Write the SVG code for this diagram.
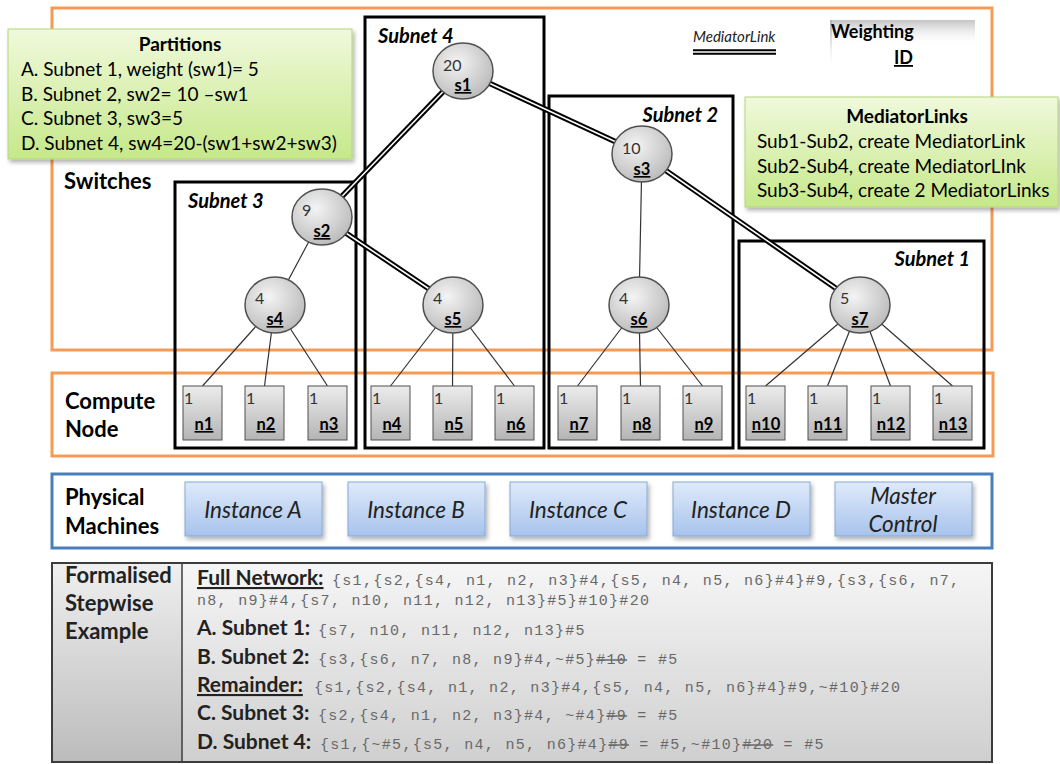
<svg xmlns="http://www.w3.org/2000/svg" width="1060" height="764" viewBox="0 0 1060 764">
<defs>
  <radialGradient id="gSw" cx="0.4" cy="0.35" r="0.7">
    <stop offset="0" stop-color="#f4f4f4"/>
    <stop offset="1" stop-color="#b9b9b9"/>
  </radialGradient>
  <linearGradient id="gNode" x1="0" y1="0" x2="0" y2="1">
    <stop offset="0" stop-color="#ececec"/>
    <stop offset="1" stop-color="#b4b4b4"/>
  </linearGradient>
  <linearGradient id="gGreen" x1="0" y1="0" x2="0" y2="1">
    <stop offset="0" stop-color="#f0f9dc"/>
    <stop offset="1" stop-color="#c6e88a"/>
  </linearGradient>
  <linearGradient id="gBlue" x1="0" y1="0" x2="0" y2="1">
    <stop offset="0" stop-color="#dfeafa"/>
    <stop offset="1" stop-color="#a7c3ec"/>
  </linearGradient>
  <linearGradient id="gStep" x1="0" y1="0" x2="0" y2="1">
    <stop offset="0" stop-color="#f6f6f6"/>
    <stop offset="1" stop-color="#cfcfcf"/>
  </linearGradient>
  <linearGradient id="gStepL" x1="0" y1="0" x2="0" y2="1">
    <stop offset="0" stop-color="#efefef"/>
    <stop offset="1" stop-color="#bcbcbc"/>
  </linearGradient>
  <linearGradient id="gWTop" x1="0" y1="0" x2="0" y2="1">
    <stop offset="0" stop-color="#c4c4c4"/>
    <stop offset="1" stop-color="#ffffff" stop-opacity="0"/>
  </linearGradient>
  <linearGradient id="gWLeft" x1="0" y1="0" x2="0" y2="1">
    <stop offset="0" stop-color="#b0b0b0"/>
    <stop offset="1" stop-color="#ffffff" stop-opacity="0"/>
  </linearGradient>
  <filter id="shadow" x="-10%" y="-10%" width="130%" height="140%">
    <feDropShadow dx="2" dy="3" stdDeviation="2" flood-color="#000" flood-opacity="0.3"/>
  </filter>
</defs>
<style>
  .mono{font-family:"Liberation Mono",monospace;font-size:15px;letter-spacing:1.3px;fill:#686868}
  .panelO{fill:none;stroke:#f59b55;stroke-width:3}
  .panelB{fill:none;stroke:#4a7ebb;stroke-width:3}
  .subnet{fill:none;stroke:#000;stroke-width:3}
  .sw{fill:url(#gSw);stroke:#505050;stroke-width:1.5}
  .nd{fill:url(#gNode);stroke:#505050;stroke-width:1}
  .green{fill:url(#gGreen);stroke:#b3d67a;stroke-width:1}
  .inst{fill:url(#gBlue);stroke:#86a8d6;stroke-width:1}
  .edge{stroke:#333;stroke-width:1.2;fill:none}
  .medo{stroke:#000;stroke-width:5.5;fill:none}
  .medi{stroke:#fff;stroke-width:1.6;fill:none}
  .head{font-family:Lato,"Liberation Sans",sans-serif;font-weight:bold;font-size:22px;fill:#000}
  .sub{font-family:Lato,"Liberation Sans",sans-serif;font-weight:bold;font-style:italic;font-size:20px;fill:#000}
  .num{font-family:Lato,"Liberation Sans",sans-serif;font-size:16px;fill:#333}
  .id{font-family:Lato,"Liberation Sans",sans-serif;font-weight:bold;font-size:16.5px;fill:#000;text-decoration:underline;text-anchor:middle}
  .box{font-family:Lato,"Liberation Sans",sans-serif;font-size:19px;fill:#000}
  .boxt{font-family:Lato,"Liberation Sans",sans-serif;font-size:19px;font-weight:bold;fill:#000;text-anchor:middle}
  .instt{font-family:Lato,"Liberation Sans",sans-serif;font-size:22.5px;font-style:italic;fill:#222;text-anchor:middle}
  .stepL{font-family:Lato,"Liberation Sans",sans-serif;font-weight:bold;font-size:22px;fill:#222}
  .step{font-family:Lato,"Liberation Sans",sans-serif;font-weight:bold;font-size:21px;fill:#222}
  .u{text-decoration:underline}
  .s{text-decoration:line-through}
</style>
<rect width="1060" height="764" fill="#fff"/>

<!-- panels -->
<g id="panel-switches">
  <rect class="panelO" x="52" y="8" width="940" height="342"/>
  <text class="head" x="64" y="189">Switches</text>
</g>
<g id="panel-compute">
  <rect class="panelO" x="52" y="373" width="941" height="83"/>
  <text class="head" x="65" y="409">Compute</text>
  <text class="head" x="65" y="437">Node</text>
</g>
<g id="panel-physical">
  <rect class="panelB" x="52" y="474" width="940" height="74"/>
  <text class="head" x="65" y="505">Physical</text>
  <text class="head" x="65" y="534">Machines</text>
</g>

<!-- subnet boxes -->
<g id="subnets">
  <g id="subnet4"><rect class="subnet" x="365" y="17" width="179" height="431"/><text class="sub" x="378" y="43">Subnet 4</text></g>
  <g id="subnet3"><rect class="subnet" x="175" y="182" width="181" height="266"/><text class="sub" x="188" y="208">Subnet 3</text></g>
  <g id="subnet2"><rect class="subnet" x="549" y="96" width="184" height="352"/><text class="sub" x="718" y="122" text-anchor="end">Subnet 2</text></g>
  <g id="subnet1"><rect class="subnet" x="739" y="241" width="245" height="207"/><text class="sub" x="970" y="266" text-anchor="end">Subnet 1</text></g>
</g>

<!-- connectors -->
<g id="connectors">
  <line class="edge" x1="322" y1="217" x2="275" y2="305"/>
  <line class="edge" x1="642" y1="154" x2="639" y2="305"/>
  <line class="edge" x1="275" y1="305" x2="202.5" y2="386"/>
  <line class="edge" x1="275" y1="305" x2="264.5" y2="386"/>
  <line class="edge" x1="275" y1="305" x2="327.5" y2="386"/>
  <line class="edge" x1="453" y1="305" x2="390.5" y2="386"/>
  <line class="edge" x1="453" y1="305" x2="452.5" y2="386"/>
  <line class="edge" x1="453" y1="305" x2="514.5" y2="386"/>
  <line class="edge" x1="639" y1="305" x2="577.5" y2="386"/>
  <line class="edge" x1="639" y1="305" x2="640.5" y2="386"/>
  <line class="edge" x1="639" y1="305" x2="702.5" y2="386"/>
  <line class="edge" x1="860" y1="305" x2="765.5" y2="386"/>
  <line class="edge" x1="860" y1="305" x2="827.5" y2="386"/>
  <line class="edge" x1="860" y1="305" x2="890.5" y2="386"/>
  <line class="edge" x1="860" y1="305" x2="952.5" y2="386"/>
  <g id="mediator-links">
    <line class="medo" x1="463" y1="71" x2="322" y2="217"/>
    <line class="medo" x1="463" y1="71" x2="642" y2="154"/>
    <line class="medo" x1="322" y1="217" x2="453" y2="305"/>
    <line class="medo" x1="642" y1="154" x2="860" y2="305"/>
    <line class="medi" x1="463" y1="71" x2="322" y2="217"/>
    <line class="medi" x1="463" y1="71" x2="642" y2="154"/>
    <line class="medi" x1="322" y1="217" x2="453" y2="305"/>
    <line class="medi" x1="642" y1="154" x2="860" y2="305"/>
  </g>
</g>

<!-- switches -->
<g id="s1"><ellipse class="sw" cx="463" cy="71" rx="30" ry="28"/><text class="num" x="443" y="71">20</text><text class="id" x="463" y="91">s1</text></g>
<g id="s2"><ellipse class="sw" cx="322" cy="217" rx="30" ry="28"/><text class="num" x="302" y="216">9</text><text class="id" x="322" y="237">s2</text></g>
<g id="s3"><ellipse class="sw" cx="642" cy="154" rx="30" ry="28"/><text class="num" x="622" y="154">10</text><text class="id" x="642" y="175">s3</text></g>
<g id="s4"><ellipse class="sw" cx="275" cy="305" rx="30" ry="28"/><text class="num" x="255" y="304">4</text><text class="id" x="275" y="325">s4</text></g>
<g id="s5"><ellipse class="sw" cx="453" cy="305" rx="30" ry="28"/><text class="num" x="433" y="304">4</text><text class="id" x="453" y="325">s5</text></g>
<g id="s6"><ellipse class="sw" cx="639" cy="305" rx="30" ry="28"/><text class="num" x="619" y="304">4</text><text class="id" x="639" y="325">s6</text></g>
<g id="s7"><ellipse class="sw" cx="860" cy="305" rx="30" ry="28"/><text class="num" x="840" y="304">5</text><text class="id" x="860" y="325">s7</text></g>

<!-- compute nodes -->
<g id="n1"><rect class="nd" x="183" y="386" width="39" height="54"/><text class="num" x="184" y="404">1</text><text class="id" x="204" y="430">n1</text></g>
<g id="n2"><rect class="nd" x="245" y="386" width="39" height="54"/><text class="num" x="246" y="404">1</text><text class="id" x="266" y="430">n2</text></g>
<g id="n3"><rect class="nd" x="308" y="386" width="39" height="54"/><text class="num" x="309" y="404">1</text><text class="id" x="329" y="430">n3</text></g>
<g id="n4"><rect class="nd" x="371" y="386" width="39" height="54"/><text class="num" x="372" y="404">1</text><text class="id" x="392" y="430">n4</text></g>
<g id="n5"><rect class="nd" x="433" y="386" width="39" height="54"/><text class="num" x="434" y="404">1</text><text class="id" x="454" y="430">n5</text></g>
<g id="n6"><rect class="nd" x="495" y="386" width="39" height="54"/><text class="num" x="496" y="404">1</text><text class="id" x="516" y="430">n6</text></g>
<g id="n7"><rect class="nd" x="558" y="386" width="39" height="54"/><text class="num" x="559" y="404">1</text><text class="id" x="579" y="430">n7</text></g>
<g id="n8"><rect class="nd" x="621" y="386" width="39" height="54"/><text class="num" x="622" y="404">1</text><text class="id" x="642" y="430">n8</text></g>
<g id="n9"><rect class="nd" x="683" y="386" width="39" height="54"/><text class="num" x="684" y="404">1</text><text class="id" x="704" y="430">n9</text></g>
<g id="n10"><rect class="nd" x="746" y="386" width="39" height="54"/><text class="num" x="747" y="404">1</text><text class="id" x="766" y="430">n10</text></g>
<g id="n11"><rect class="nd" x="808" y="386" width="39" height="54"/><text class="num" x="809" y="404">1</text><text class="id" x="828" y="430">n11</text></g>
<g id="n12"><rect class="nd" x="871" y="386" width="39" height="54"/><text class="num" x="872" y="404">1</text><text class="id" x="891" y="430">n12</text></g>
<g id="n13"><rect class="nd" x="933" y="386" width="39" height="54"/><text class="num" x="934" y="404">1</text><text class="id" x="953" y="430">n13</text></g>

<!-- physical machines -->
<g id="instA"><rect class="inst" filter="url(#shadow)" x="185" y="482" width="137" height="54"/><text class="instt" x="253" y="518">Instance A</text></g>
<g id="instB"><rect class="inst" filter="url(#shadow)" x="348" y="482" width="137" height="54"/><text class="instt" x="416" y="518">Instance B</text></g>
<g id="instC"><rect class="inst" filter="url(#shadow)" x="510" y="482" width="137" height="54"/><text class="instt" x="578" y="518">Instance C</text></g>
<g id="instD"><rect class="inst" filter="url(#shadow)" x="673" y="482" width="137" height="54"/><text class="instt" x="741" y="518">Instance D</text></g>
<g id="master"><rect class="inst" filter="url(#shadow)" x="835" y="482" width="137" height="54"/><text class="instt" x="903" y="504">Master</text><text class="instt" x="903" y="532">Control</text></g>

<!-- stepwise example -->
<g id="stepwise">
  <rect x="52" y="563" width="940" height="199" fill="url(#gStep)" stroke="#3c3c3c" stroke-width="2"/>
  <rect x="53" y="564" width="129" height="197" fill="url(#gStepL)"/>
  <line x1="182" y1="563" x2="182" y2="762" stroke="#3c3c3c" stroke-width="1.5"/>
  <text class="stepL" x="65" y="583">Formalised</text>
  <text class="stepL" x="65" y="611">Stepwise</text>
  <text class="stepL" x="65" y="639">Example</text>
  <text class="step u" x="197" y="585">Full Network:</text>
  <text class="mono" x="332" y="585">{s1,{s2,{s4, n1, n2, n3}#4,{s5, n4, n5, n6}#4}#9,{s3,{s6, n7,</text>
  <text class="mono" x="197" y="605">n8, n9}#4,{s7, n10, n11, n12, n13}#5}#10}#20</text>
  <text class="step" x="197" y="635">A. Subnet 1:</text>
  <text class="mono" x="318" y="635">{s7, n10, n11, n12, n13}#5</text>
  <text class="step" x="197" y="664">B. Subnet 2:</text>
  <text class="mono" x="318" y="664">{s3,{s6, n7, n8, n9}#4,~#5}<tspan class="s">#10</tspan> = #5</text>
  <text class="step u" x="197" y="692">Remainder:</text>
  <text class="mono" x="314" y="692">{s1,{s2,{s4, n1, n2, n3}#4,{s5, n4, n5, n6}#4}#9,~#10}#20</text>
  <text class="step" x="197" y="720">C. Subnet 3:</text>
  <text class="mono" x="318" y="720">{s2,{s4, n1, n2, n3}#4, ~#4}<tspan class="s">#9</tspan> = #5</text>
  <text class="step" x="197" y="749">D. Subnet 4:</text>
  <text class="mono" x="320" y="749">{s1,{~#5,{s5, n4, n5, n6}#4}<tspan class="s">#9</tspan> = #5,~#10}<tspan class="s">#20</tspan> = #5</text>
</g>

<!-- partitions box -->
<g id="partitions">
  <rect class="green" filter="url(#shadow)" x="8" y="29" width="344" height="130"/>
  <text class="boxt" x="180" y="51">Partitions</text>
  <text class="box" x="21" y="76">A. Subnet 1, weight (sw1)= 5</text>
  <text class="box" x="21" y="101">B. Subnet 2, sw2= 10 –sw1</text>
  <text class="box" x="21" y="125">C. Subnet 3, sw3=5</text>
  <text class="box" x="21" y="150">D. Subnet 4, sw4=20-(sw1+sw2+sw3)</text>
</g>

<!-- mediator links box -->
<g id="mediatorlinks">
  <rect class="green" filter="url(#shadow)" x="745" y="97" width="313" height="110"/>
  <text class="boxt" x="907" y="123">MediatorLinks</text>
  <text class="box" x="757" y="148">Sub1-Sub2, create MediatorLink</text>
  <text class="box" x="757" y="173">Sub2-Sub4, create MediatorLInk</text>
  <text class="box" x="757" y="197">Sub3-Sub4, create 2 MediatorLinks</text>
</g>

<!-- legend -->
<g id="legend-mediator">
  <text x="693" y="42" font-family="Lato, 'Liberation Sans', sans-serif" font-size="15" font-style="italic" fill="#222">MediatorLink</text>
  <line class="medo" x1="693" y1="52" x2="776" y2="52"/>
  <line class="medi" x1="693" y1="52" x2="776" y2="52"/>
</g>
<g id="legend-weighting">
  <rect x="830" y="20" width="145" height="26" fill="url(#gWTop)"/>
  <rect x="830" y="20" width="2" height="52" fill="url(#gWLeft)"/>
  <text x="831" y="38" font-family="Lato, 'Liberation Sans', sans-serif" font-size="18" font-weight="bold" fill="#000">Weighting</text>
  <text x="913" y="64" font-family="Lato, 'Liberation Sans', sans-serif" font-size="18" font-weight="bold" fill="#000" text-anchor="end" text-decoration="underline">ID</text>
</g>
</svg>
